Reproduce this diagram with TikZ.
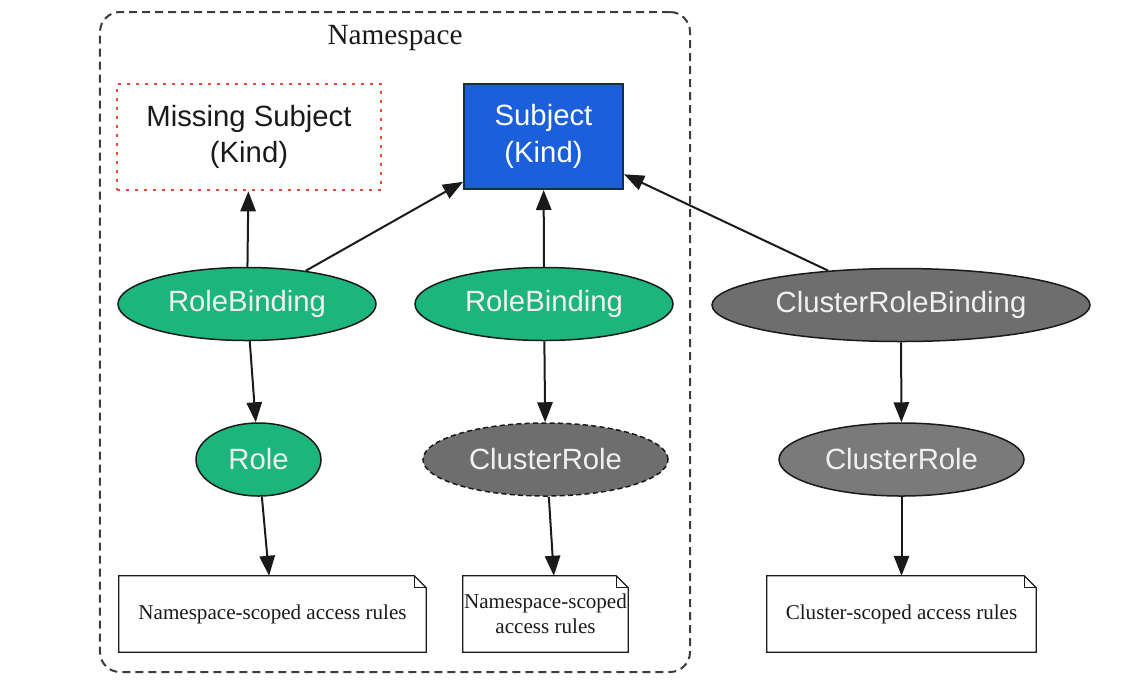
\documentclass[tikz,border=0pt]{standalone}
\usepackage{fontspec}
\setmainfont{Liberation Serif}
\newfontfamily\lsans{Liberation Sans}
\usetikzlibrary{arrows.meta,shapes.geometric}
\definecolor{kgreen}{HTML}{1CB57C}
\definecolor{kblue}{HTML}{1B5FDA}
\definecolor{kgray}{HTML}{6E6E6E}
\definecolor{kred}{HTML}{EC4A38}
\definecolor{kline}{HTML}{1A1A1A}
\definecolor{knavy}{HTML}{1A2A50}
\tikzset{
  every node/.style={text=kline},
  obj/.style={ellipse, draw=kline, line width=0.45mm, fill=#1, text=white!94!black,
              font=\lsans\fontsize{25}{31}\selectfont, minimum height=21.9mm, inner sep=0pt},
  obj/.default=kgreen,
  kind/.style={rectangle, line width=0.6mm, font=\lsans\fontsize{25}{31}\selectfont,
               align=center, minimum height=31.8mm},
  rules/.style={font=\fontsize{18}{21}\selectfont, align=center, minimum height=22.8mm, inner sep=0pt},
  arr/.style={-{Triangle[length=6mm,width=4.6mm]}, draw=kline, line width=0.6mm},
  nsbox/.style={draw=kline!85, line width=0.6mm, dash pattern=on 2.4mm off 1.5mm, rounded corners=6mm},
}

\begin{document}
\begin{tikzpicture}[x=0.3mm,y=-0.3mm]
\useasboundingbox (0,0) rectangle (1121,689);

% ---------------- namespace ----------------
\node[nsbox, minimum width=177mm, minimum height=198mm] (ns) at (395,342) {};
\node[font=\fontsize{25}{30}\selectfont] (nstitle) at (395,38) {Namespace};

% ---------------- subjects ----------------
\node[kind, draw=kred, line width=0.8mm, dash pattern=on 0.9mm off 1.8mm, minimum width=79.2mm] (miss) at (249,137)
  {Missing Subject\\(Kind)};
\node[kind, draw=knavy, fill=kblue, text=white, minimum width=47.7mm, minimum height=31.5mm] (subj) at (543.5,136.5)
  {Subject\\(Kind)};

% ---------------- bindings ----------------
\node[obj, minimum width=77.4mm] (rb1) at (247,304) {RoleBinding};
\node[obj, minimum width=77.4mm] (rb2) at (544,304) {RoleBinding};
\node[obj=kgray, minimum width=113.4mm] (crb) at (901,305) {ClusterRoleBinding};

% ---------------- roles ----------------
\node[obj, minimum width=37.5mm] (role) at (258.5,459.5) {Role};
\node[obj=kgray, dash pattern=on 1.5mm off 1mm, minimum width=73.5mm] (cr1) at (545.5,459.5) {ClusterRole};
\node[obj=kgray!92, minimum width=73.5mm] (cr2) at (901.5,459.5) {ClusterRole};

% ---------------- access rules (notes) ----------------
\node[rules, minimum width=92.1mm] (nr1) at (272.5,614) {Namespace-scoped access rules};
\node[rules, minimum width=49.5mm] (nr2) at (545.5,614) {Namespace-scoped\\access rules};
\node[rules, minimum width=80.7mm] (nr3) at (901.5,614) {Cluster-scoped access rules};
\foreach \n in {nr1,nr2,nr3} {
  \draw[draw=kline, line width=0.4mm] (\n.south west) -- (\n.north west) -- ([xshift=-3.6mm]\n.north east)
    -- ([yshift=-3.6mm]\n.north east) -- (\n.south east) -- cycle;
  \draw[draw=kline, line width=0.3mm] ([xshift=-3.6mm]\n.north east) -- ([xshift=-3.6mm,yshift=-3.6mm]\n.north east)
    -- ([yshift=-3.6mm]\n.north east);
}

% ---------------- arrows ----------------
\draw[arr] (rb1) -- (miss);
\draw[arr] (rb1) -- (subj);
\draw[arr] (rb2) -- (subj);
\draw[arr] (crb) -- (subj);
\draw[arr] (rb1) -- (role);
\draw[arr] (rb2) -- (cr1);
\draw[arr] (crb) -- (cr2);
\draw[arr] (role) -- (nr1);
\draw[arr] ([xshift=1mm]cr1.south) -- ([xshift=2.5mm]nr2.north);
\draw[arr] (cr2) -- (nr3);

\end{tikzpicture}
\end{document}
